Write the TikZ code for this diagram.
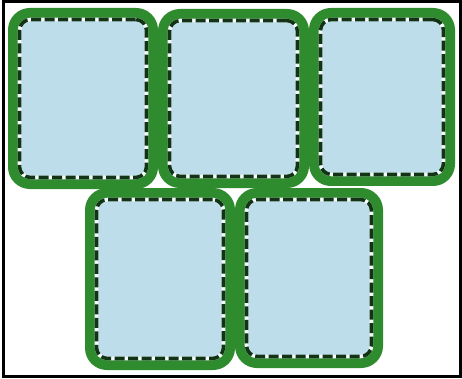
\documentclass[tikz,border=0pt]{standalone}
\definecolor{patchgreen}{HTML}{2E8B2E}
\definecolor{patchblue}{HTML}{BEDDEA}
\definecolor{stitchdark}{HTML}{103414}
\tikzset{
  patch/.style={rectangle, draw=patchgreen, line width=10pt, fill=patchblue,
    rounded corners=17pt, inner sep=0pt},
  stitchbase/.style={rectangle, draw=white!85!patchblue, line width=3.6pt,
    rounded corners=11pt, inner sep=0pt},
  stitch/.style={rectangle, draw=stitchdark, line width=3.6pt,
    dash pattern=on 10pt off 3.5pt, rounded corners=11pt, inner sep=0pt},
}
\begin{document}
\begin{tikzpicture}[x=1pt,y=-1pt]
\useasboundingbox (0,0) rectangle (462,379);
\fill[white] (0,0) rectangle (462,379);
\foreach \n/\xa/\ya/\xb/\yb in {p1/8/8/158/189, p2/158/9/309/188, p3/309/8/455/186, p4/85/188/235/370, p5/235/188/383/368}{
  \node[patch, minimum width={\xb-\xa-10}, minimum height={\yb-\ya-10}]
    (\n) at ({(\xa+\xb)/2},{(\ya+\yb)/2}) {};
}
\foreach \n/\xa/\ya/\xb/\yb in {p1/8/8/158/189, p2/158/9/309/188, p3/309/8/455/186, p4/85/188/235/370, p5/235/188/383/368}{
  \node[stitchbase, minimum width={\xb-\xa-23}, minimum height={\yb-\ya-23}]
    (\n b) at (\n.center) {};
  \node[stitch, minimum width={\xb-\xa-23}, minimum height={\yb-\ya-23}]
    (\n s) at (\n.center) {};
}
\draw[black, line width=3pt] (3,1.5) rectangle (460.5,376);
\end{tikzpicture}
\end{document}
